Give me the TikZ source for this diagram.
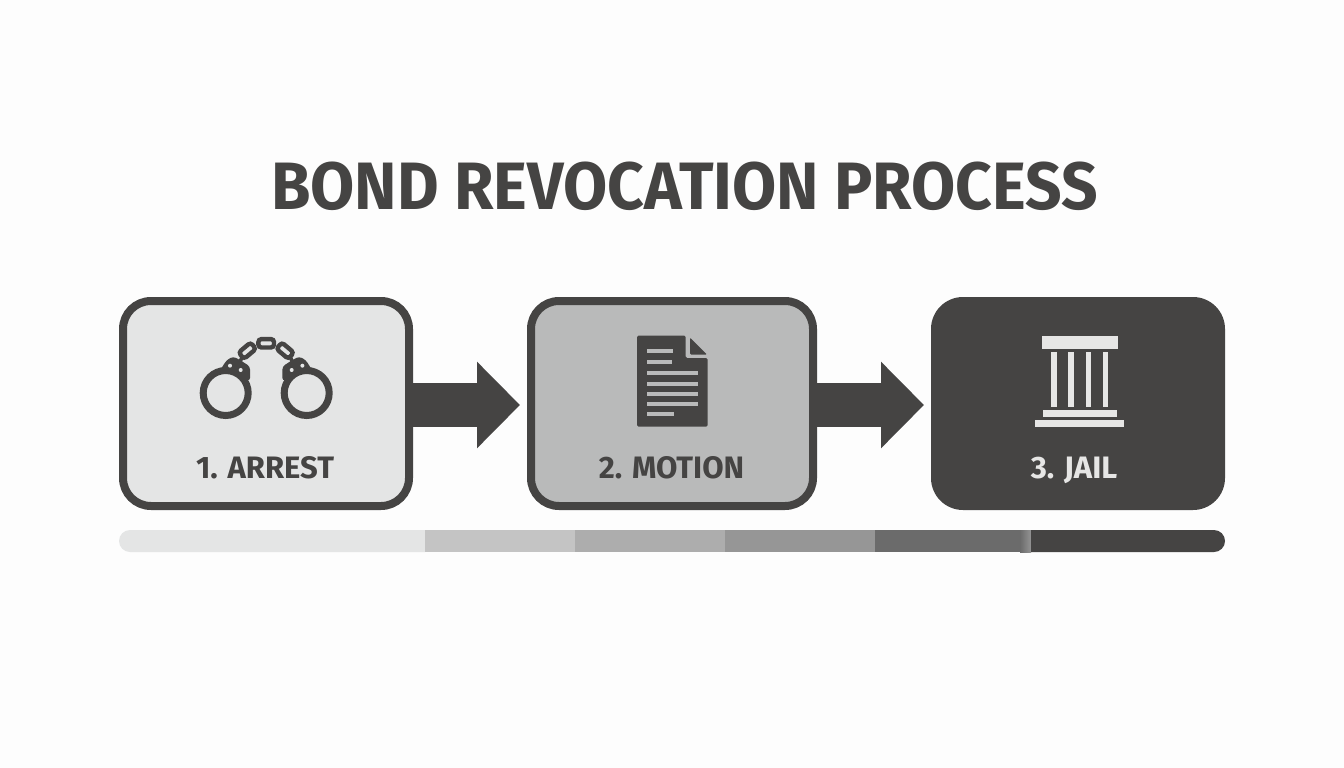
\documentclass[tikz,border=0pt]{standalone}
\usepackage{fontspec}
\setmainfont{Fira Sans}
\usetikzlibrary{arrows.meta}
\definecolor{inkdark}{HTML}{454443}
\definecolor{boxlight}{HTML}{E4E5E5}
\definecolor{boxmid}{HTML}{B9BABA}
\definecolor{iconlight}{HTML}{E6E6E5}
\definecolor{paper}{HTML}{FDFDFD}

\tikzset{
    stepbox/.style={rectangle, rounded corners=28pt, draw=inkdark, line width=8pt, minimum width=286pt, minimum height=205pt, inner sep=0pt},
    steplabel/.style={font=\bfseries\fontsize{31}{34}\selectfont, text=inkdark, inner sep=0pt, anchor=base},
    flowarrow/.style={draw=inkdark, line width=44pt, -{Triangle[length=43pt,width=84pt,fill=inkdark]}, shorten >=7pt},
    chainlink/.style={draw=inkdark, fill=boxlight, line width=4.4pt, rounded corners=3pt}
}

\begin{document}
\begin{tikzpicture}[x=1pt, y=-1pt]

        \useasboundingbox (0,0) rectangle (1344,768);
        \fill[paper] (0,0) rectangle (1344,768);

        % Title
        \node[font=\bfseries\fontsize{67}{72}\selectfont, text=inkdark, inner sep=0pt, anchor=base, xscale=0.955, transform shape] (title) at (684.5,209.5) {BOND REVOCATION PROCESS};

        % Step boxes
        \node[stepbox, fill=boxlight] (arrest) at (266,403.5) {};
        \node[stepbox, fill=boxmid, minimum width=282pt] (motion) at (672,403.5) {};
        \node[stepbox, fill=inkdark, draw=none, line width=0pt, minimum width=294pt, minimum height=213pt, rounded corners=32pt] (jail) at (1078,403.5) {};

        % Step labels
        \node[steplabel] (arrestlabel) at (265,478) {1. ARREST};
        \node[steplabel] (motionlabel) at (671.5,478) {2. MOTION};
        \node[steplabel, text=iconlight] (jaillabel) at (1074,478) {3. JAIL};

        % Arrows between the boxes
        \draw[flowarrow] ([yshift=-1.5pt]arrest.east) -- ([yshift=-1.5pt]motion.west);
        \draw[flowarrow] ([yshift=-1.5pt]motion.east) -- ([yshift=-1.5pt]jail.west);

        % Handcuffs: rings
        \draw[draw=inkdark, line width=7pt] (225.7,393) circle (22.5);
        \draw[draw=inkdark, line width=7pt] (306.7,393) circle (22.5);

        % Handcuffs: heads and their holes
        \fill[inkdark, rounded corners=3pt] (219,372) -- (226.7,360) -- (233.3,356.5) -- (240,360) -- (250,366.5) -- (250,381) -- (232,373) -- cycle;
        \fill[inkdark, rounded corners=3pt] (313.4,372) -- (305.7,360) -- (299.1,356.5) -- (292.4,360) -- (282.4,366.5) -- (282.4,381) -- (300.4,373) -- cycle;
        \fill[boxlight] (230,365.7) circle (2);
        \fill[boxlight] (240.7,370) circle (2);
        \fill[boxlight] (302.4,365.7) circle (2);
        \fill[boxlight] (291.7,370) circle (2);

        % Handcuffs: chain
        \draw[inkdark, line width=3.6pt] (240,362) -- (243,355);
        \draw[inkdark, line width=3.6pt] (292.4,362) -- (289.4,355);
        \draw[chainlink, rotate around={40:(247.3,350.7)}] (239.5,346.5) rectangle (255.1,354.9);
        \draw[chainlink, rotate around={-40:(285.1,350.7)}] (277.3,346.5) rectangle (292.9,354.9);
        \draw[chainlink] (258.4,339.1) rectangle (274,347.5);

        % Document: sheet and folded corner
        \fill[inkdark, rounded corners=1.5pt] (637,335.7) -- (685.7,335.7) -- (685.7,358) -- (707.7,358) -- (707.7,426.7) -- (637,426.7) -- cycle;
        \fill[inkdark, rounded corners=1pt] (690,337.7) -- (707,354.5) -- (690,354.5) -- cycle;

        % Document: text lines
        \fill[boxmid] (646.7,349.3) rectangle (672.7,353.3);
        \fill[boxmid] (646.7,360) rectangle (672.3,364);
        \fill[boxmid] (646.7,371.3) rectangle (697.7,375.3);
        \fill[boxmid] (646.7,381.7) rectangle (697.7,385.7);
        \fill[boxmid] (646.7,391.7) rectangle (697.7,395.7);
        \fill[boxmid] (646.7,401.7) rectangle (697.7,405.7);
        \fill[boxmid] (646.7,412) rectangle (674.3,416);

        % Courthouse: roof, columns and steps
        \fill[iconlight] (1041.7,336) rectangle (1118.3,349.3);
        \fill[iconlight] (1051.3,352.3) rectangle (1057,406.7);
        \fill[iconlight] (1068.3,352.3) rectangle (1074.3,406.7);
        \fill[iconlight] (1085.7,352.3) rectangle (1091.3,406.7);
        \fill[iconlight] (1102.7,352.3) rectangle (1108.3,406.7);
        \fill[iconlight] (1042.7,410.3) rectangle (1117,416.7);
        \fill[iconlight] (1035.3,420) rectangle (1123.7,426.7);

        % Progress bar
        \fill[boxlight] (425,530) -- (130,530) arc (-90:-270:11) -- (425,552) -- cycle;
        \fill[boxmid!85!white] (425,530) rectangle (575,552);
        \fill[black!32] (575,530) rectangle (725,552);
        \fill[black!41] (725,530) rectangle (875,552);
        \fill[black!58] (875,530) rectangle (1031,552);
        \shade[left color=black!58, right color=black!42] (1020,530) rectangle (1031,552);
        \fill[inkdark] (1031,530) -- (1214,530) arc (-90:90:11) -- (1031,552) -- cycle;

    \end{tikzpicture}
\end{document}
